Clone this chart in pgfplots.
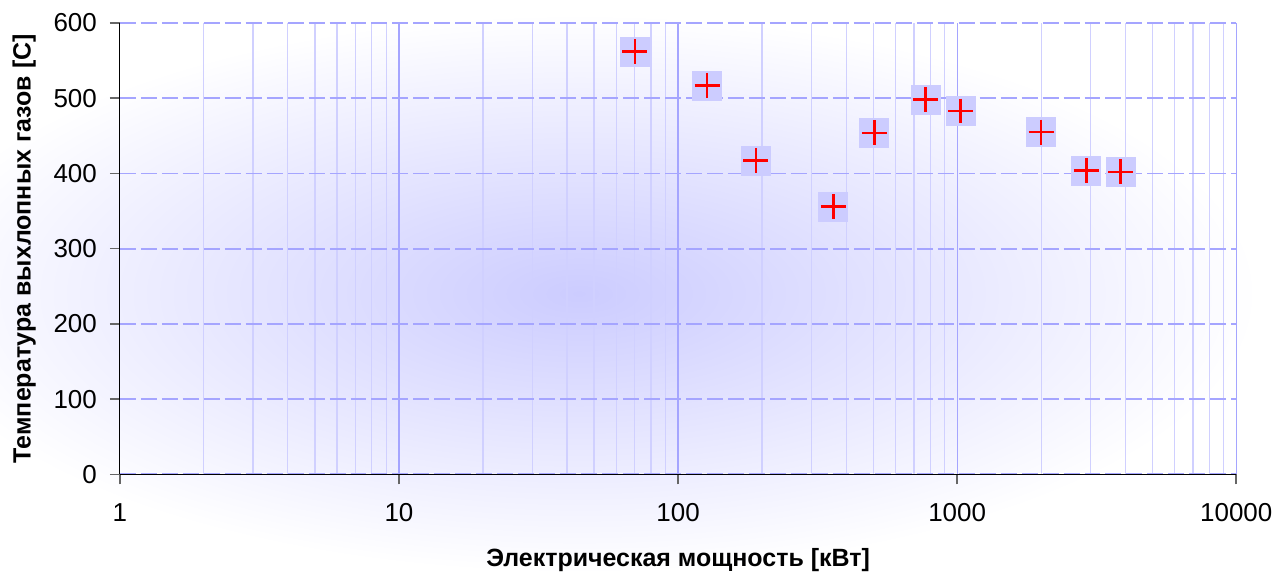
\documentclass[border=0pt]{standalone}
\usepackage{fontspec}
\setmainfont{Liberation Sans}
\usepackage{pgfplots}
\pgfplotsset{compat=1.18}
\definecolor{bgc}{RGB}{204,204,255}
\definecolor{gridmaj}{RGB}{165,165,255}
\definecolor{gridmin}{RGB}{208,208,255}
\definecolor{markbg}{RGB}{204,204,255}
\begin{document}
\begin{tikzpicture}
\begin{scope}
\clip (0,0) rectangle (639.5bp,287bp);
\fill[white] (0,0) rectangle (639.5bp,287bp);
\shade[inner color=bgc, outer color=white] (290bp,140bp) ellipse (340bp and 140bp);
\end{scope}
\begin{axis}[
  at={(60bp,49.5bp)}, anchor=south west,
  scale only axis, width=559bp, height=226bp,
  xmode=log, xmin=1, xmax=10000, ymin=0, ymax=600,
  xtick={1,10,100,1000,10000}, xticklabels={1,10,100,1000,10000},
  ytick={0,100,200,300,400,500,600},
  axis x line*=bottom, axis y line*=left,
  axis line style={black, line width=0.6bp, -},
  tick align=outside, major tick length=5bp, minor tick length=0pt,
  every tick/.style={gray!80!black, line width=0.8bp},
  xmajorgrids, xminorgrids, ymajorgrids,
  major x grid style={gridmaj, line width=0.6bp},
  minor x grid style={gridmin, line width=0.6bp},
  major y grid style={gridmaj, line width=0.9bp, dash pattern=on 8bp off 2.5bp},
  tick label style={font=\fontsize{13bp}{15bp}\selectfont},
  yticklabel style={xshift=-3bp},
  xticklabel style={yshift=-6bp},
  /pgf/number format/assume math mode=true,
  label style={font=\bfseries\fontsize{12.5bp}{15bp}\selectfont},
  xlabel={Электрическая мощность [кВт]},
  ylabel={Температура выхлопных газов [С]},
  xlabel style={at={(axis description cs:0.5,-0.19)}, anchor=center},
  ylabel style={at={(axis description cs:-0.0857,0.5)}, anchor=center},
  clip=false,
]
\addplot[only marks, draw=markbg, fill=markbg, mark=square*, mark size=7.25bp, mark options={fill=markbg, draw=markbg}] coordinates {
(70,562) (127,517) (190,417) (360,356) (505,454) (770,498) (1030,483) (2000,455) (2900,404) (3850,402)
};
\addplot[only marks, red, mark=+, mark size=6.25bp, mark options={draw=red, line width=1.3bp}] coordinates {
(70,562) (127,517) (190,417) (360,356) (505,454) (770,498) (1030,483) (2000,455) (2900,404) (3850,402)
};
\end{axis}
\end{tikzpicture}
\end{document}
